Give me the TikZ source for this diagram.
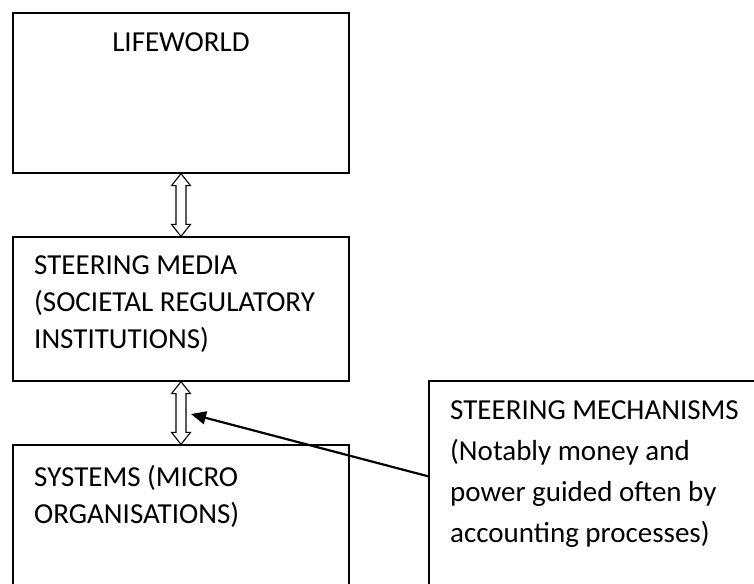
\documentclass[tikz,border=0pt]{standalone}
\usepackage{fontspec}
\setmainfont{Carlito}
\usetikzlibrary{arrows.meta,calc}
\tikzset{
  box/.style={draw=black, line width=1.3pt, rectangle, inner sep=0pt},
  lbl/.style={inner sep=0pt, align=left, anchor=base west},
  blockarrow/.style={draw=black, line width=1.1pt, fill=white, line join=miter},
  pointer/.style={draw=black, line width=2.2pt, -{Triangle[length=15pt,width=13pt]}}
}
\newcommand\dblarrow[2]{%
  \draw[blockarrow] (#1.south) -- ++(9.5,12) -- ++(-4.5,0)
    -- ($(#2.north)+(5,-12)$) -- ++(4.5,0) -- (#2.north)
    -- ++(-9.5,-12) -- ++(4.5,0) -- ($(#1.south)+(-5,12)$)
    -- ++(-4.5,0) -- cycle;}
\begin{document}
\begin{tikzpicture}[x=1pt,y=-1pt, font=\fontsize{29}{37}\selectfont]
\clip (0,0) rectangle (754,583);
\fill[white] (0,0) rectangle (754,583);
% boxes
\node[box, minimum width=336pt, minimum height=160pt] (lw) at (181,93) {};
\node[box, minimum width=336pt, minimum height=144pt] (sm) at (181,309) {};
\node[box, minimum width=336pt, minimum height=160pt] (sys) at (181,525) {};
\node[box, minimum width=345pt, minimum height=230pt] (mech) at (601.5,496) {};
% texts (base anchor = baseline of last line)
\node[inner sep=0pt, anchor=base] (lwt) at (181,52) {LIFEWORLD};
\node[lbl] (smt) at (34,348) {STEERING MEDIA\\(SOCIETAL REGULATORY\\INSTITUTIONS)};
\node[lbl] (syst) at (34,523) {SYSTEMS (MICRO\\ORGANISATIONS)};
\node[lbl, font=\fontsize{29}{41}\selectfont] (mecht) at (450,542) {STEERING MECHANISMS\\(Notably money and\\power guided often by\\accounting processes)};
% double arrows
\dblarrow{lw}{sm}
\dblarrow{sm}{sys}
% pointer
\coordinate (tip) at (191,414);
\coordinate (start) at ($(mech.north west)+(0,96)$);
\draw[pointer] (start) -- (tip);
\end{tikzpicture}
\end{document}
